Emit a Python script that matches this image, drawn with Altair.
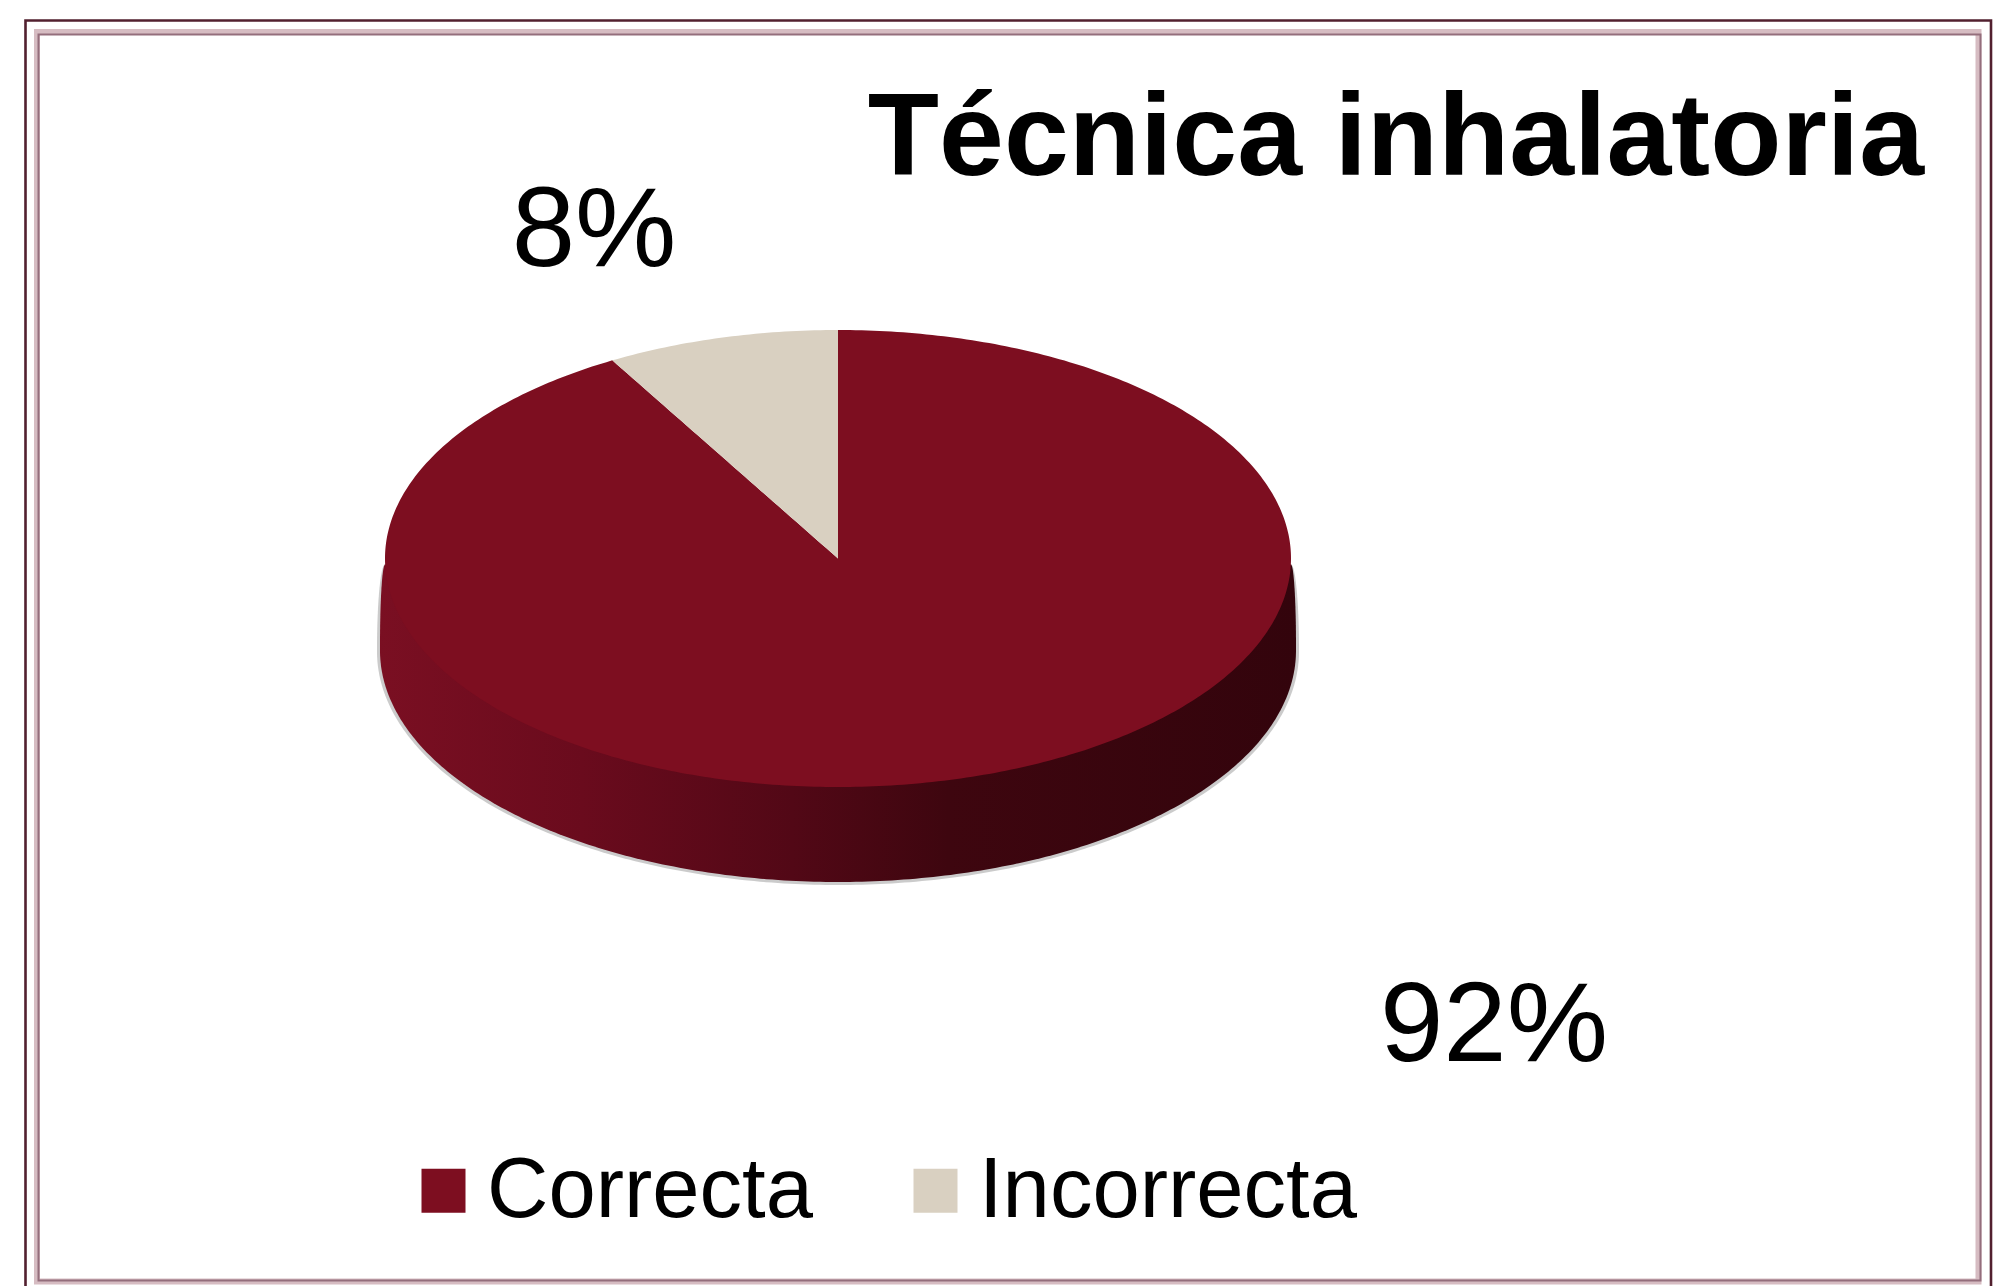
import numpy as np
import pandas as pd
import altair as alt

# ---- values
categories = ["Correcta", "Incorrecta"]
shares = [91.7, 8.3]
labels = ["92%", "8%"]
title_text = "Técnica inhalatoria"

# ---- styles and layout (image pixels)
colors = ["#7D0E20", "#D9D0C1"]
FONT = "Liberation Sans"
W, H = 1988, 1278
OX, OY = 8, 8
CX, CY, RX, RY = 838.0, 558.5, 453.0, 228.5
DEPTH = 95.0
WALL_RX = 458.0
label_pos = {"92%": (1494, 1061), "8%": (594, 266)}

x_scale = alt.Scale(domain=[OX, OX + W], zero=False, nice=False)
y_scale = alt.Scale(domain=[OY + H, OY], zero=False, nice=False)
X = alt.X("px:Q", scale=x_scale, axis=None)
Y = alt.Y("top:Q", scale=y_scale, axis=None)
Y2 = alt.Y2("bottom:Q")

# ---- slices derive from the shares
a_wedge = 2 * np.pi * shares[1] / sum(shares)
ex = CX - RX * np.sin(a_wedge)
ey = CY - RY * np.cos(a_wedge)


def ellipse_top(x, rx=RX, ry=RY, cy=CY):
    return cy - ry * np.sqrt(np.clip(1 - ((x - CX) / rx) ** 2, 0, 1))


def ellipse_bot(x, rx=RX, ry=RY, cy=CY):
    return cy + ry * np.sqrt(np.clip(1 - ((x - CX) / rx) ** 2, 0, 1))


def wall_top(x, rx, drop):
    """Upper edge of the side wall: hidden under the top face, then curving down to the widest point."""
    over = np.clip((np.abs(x - CX) - RX) / (rx - RX), 0, 1)
    return CY + 6 + drop * (1 - np.sqrt(1 - over ** 2))


theta = np.linspace(-np.pi / 2, np.pi / 2, 241)
xs = CX + RX * np.sin(theta)
xs = np.unique(np.concatenate([xs, [ex, CX]]))


def wedge_line(x):
    return ey + (CY - ey) * (x - ex) / (CX - ex)


rows_main = []
for x in xs:
    if x < ex or x > CX:
        rows_main.append((x, ellipse_top(x), ellipse_bot(x)))
    elif x == CX:
        rows_main.append((x, CY, ellipse_bot(x)))
        rows_main.append((x + 0.01, ellipse_top(x), ellipse_bot(x)))
    else:
        rows_main.append((x, wedge_line(x), ellipse_bot(x)))
main_df = pd.DataFrame(rows_main, columns=["px", "top", "bottom"])
main_df["serie"] = categories[0]

wx = xs[(xs >= ex) & (xs <= CX)]
wedge_df = pd.DataFrame({"px": wx, "top": ellipse_top(wx), "bottom": wedge_line(wx)})
wedge_df["serie"] = categories[1]

color = alt.Color(
    "serie:N",
    scale=alt.Scale(domain=categories, range=colors),
    legend=alt.Legend(
        title=None,
        orient="none",
        legendX=401 - OX,
        legendY=1148 - OY,
        direction="horizontal",
        columns=2,
        symbolType="square",
        symbolSize=1936,
        symbolStrokeWidth=0,
        symbolOpacity=1,
        labelFont=FONT,
        labelFontSize=85,
        labelColor="#000000",
        labelOffset=1,
        columnPadding=80,
        labelLimit=600,
    ),
)

top_main = alt.Chart(main_df).mark_area().encode(x=X, y=Y, y2=Y2, color=color)
top_wedge = alt.Chart(wedge_df).mark_area().encode(x=X, y=Y, y2=Y2, color=color)

# side wall and its soft edge
wall_x = CX + WALL_RX * np.sin(theta)
wall_df = pd.DataFrame({
    "px": wall_x,
    "top": wall_top(wall_x, WALL_RX, DEPTH - 15),
    "bottom": ellipse_bot(wall_x, WALL_RX, RY + 3, CY + DEPTH - 3),
})
wall_gradient = alt.Gradient(
    gradient="linear", x1=0, x2=1, y1=0, y2=0,
    stops=[
        alt.GradientStop(offset=0.0, color="#7A0F22"),
        alt.GradientStop(offset=0.22, color="#6A0B1D"),
        alt.GradientStop(offset=0.45, color="#520816"),
        alt.GradientStop(offset=0.62, color="#3E060F"),
        alt.GradientStop(offset=1.0, color="#33040C"),
    ],
)
wall = alt.Chart(wall_df).mark_area(color=wall_gradient).encode(x=X, y=Y, y2=Y2)

halo_x = CX + (WALL_RX + 3) * np.sin(theta)
halo_df = pd.DataFrame({
    "px": halo_x,
    "top": wall_top(halo_x, WALL_RX + 3, DEPTH - 10),
    "bottom": ellipse_bot(halo_x, WALL_RX + 3, RY + 5, CY + DEPTH - 2),
})
halo = alt.Chart(halo_df).mark_area(color="#6b6b6b", opacity=0.35).encode(x=X, y=Y, y2=Y2)


# frame
def frame(left, top, right, bottom, stroke, width):
    return alt.Chart(pd.DataFrame({"k": [0]})).mark_rect(
        fillOpacity=0, stroke=stroke, strokeWidth=width
    ).encode(
        x=alt.value(left - OX), x2=alt.value(right - OX),
        y=alt.value(top - OY), y2=alt.value(bottom - OY),
    )


frames = [
    frame(25.5, 20.5, 1991, 1330, "#52202F", 2.6),
    frame(37, 32, 1978.5, 1281.5, "#D6BCC2", 6),
    frame(38.5, 34.5, 1980.5, 1280.5, "#946E7C", 2),
]

# percent labels and title
texts = []
for lab in labels:
    px, py = label_pos[lab]
    texts.append(
        alt.Chart(pd.DataFrame({"t": [lab]})).mark_text(
            font=FONT, fontSize=114, color="#000000", align="center", baseline="alphabetic"
        ).encode(text="t:N", x=alt.value(px - OX), y=alt.value(py - OY))
    )
title_mark = alt.Chart(pd.DataFrame({"t": [title_text]})).mark_text(
    font=FONT, fontSize=116.6, fontWeight="bold", color="#000000", align="right", baseline="alphabetic"
).encode(text="t:N", x=alt.value(1924 - OX), y=alt.value(175 - OY))

chart = alt.layer(
    *frames, halo, wall, top_main, top_wedge, *texts, title_mark
).properties(
    width=W,
    height=H,
    padding=0,
    autosize=alt.AutoSizeParams(type="none"),
    background="#FFFFFF",
).configure_view(stroke=None)

chart.save("out.html", embed_options={"renderer": "svg", "actions": False})
